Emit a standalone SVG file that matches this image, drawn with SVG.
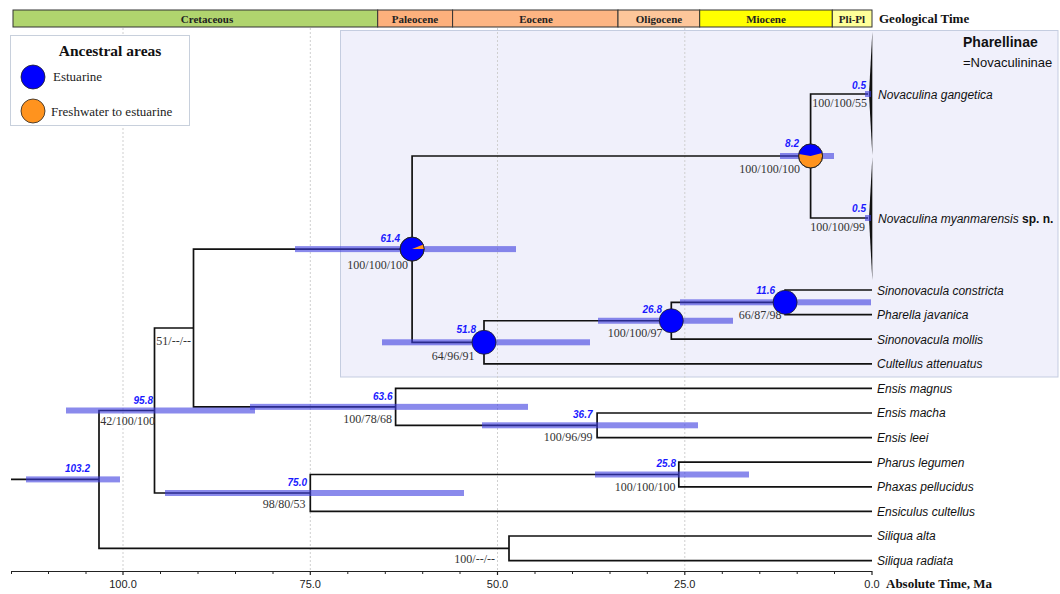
<svg xmlns="http://www.w3.org/2000/svg" width="1060" height="594" viewBox="0 0 1060 594">
<style>
.br{fill:none;stroke:#111;stroke-width:1.7}
.hpd{fill:#3c3cdf;fill-opacity:0.6}
.age{font-family:"Liberation Sans",Arial,sans-serif;font-style:italic;font-weight:bold;font-size:10px;fill:#1a1aff;text-anchor:end}
.sup{font-family:"Liberation Serif","Times New Roman",serif;font-size:12px;fill:#333;text-anchor:end}
.tip{font-family:"Liberation Sans",Arial,sans-serif;font-style:italic;font-size:12px;fill:#111}
.grid{stroke:#cfcfcf;stroke-dasharray:2 2;stroke-width:1}
.per{stroke:#333;stroke-width:1}
.pl{font-family:"Liberation Serif","Times New Roman",serif;font-weight:bold;font-size:11px;fill:#222;text-anchor:middle}
.ttl{font-family:"Liberation Serif","Times New Roman",serif;font-weight:bold;font-size:13px;fill:#111}
.ax{font-family:"Liberation Sans",Arial,sans-serif;font-size:11px;fill:#222;text-anchor:middle}
.pie{stroke:#222;stroke-width:0.8}
.blue{fill:#0000ff}
.orange{fill:#ff931e}
.wedge{fill:#111}
</style>
<rect x="0" y="0" width="1060" height="594" fill="#ffffff"/>

<!-- Shaded clade panel -->
<rect x="340.5" y="30.5" width="717.5" height="346.5" fill="#f0f0fb" stroke="#c5cde0" stroke-width="1"/>

<!-- Grid lines -->
<g id="grid">
<line class="grid" x1="123" y1="28" x2="123" y2="571"/>
<line class="grid" x1="310.3" y1="28" x2="310.3" y2="571"/>
<line class="grid" x1="497.5" y1="28" x2="497.5" y2="571"/>
<line class="grid" x1="684.8" y1="28" x2="684.8" y2="571"/>
</g>

<!-- Geological time bar -->
<g id="geotime">
<rect class="per" x="13" y="10" width="364.7" height="17" fill="#b0d46e"/>
<rect class="per" x="377.7" y="10" width="74.9" height="17" fill="#fdb07c"/>
<rect class="per" x="452.6" y="10" width="165.4" height="17" fill="#fdb583"/>
<rect class="per" x="618" y="10" width="81.7" height="17" fill="#fdc69a"/>
<rect class="per" x="699.7" y="10" width="132.6" height="17" fill="#ffff00"/>
<rect class="per" x="832.3" y="10" width="39.7" height="17" fill="#ffff99"/>
<text class="pl" x="207" y="22.5">Cretaceous</text>
<text class="pl" x="415" y="22.5">Paleocene</text>
<text class="pl" x="536" y="22.5">Eocene</text>
<text class="pl" x="659" y="22.5">Oligocene</text>
<text class="pl" x="766" y="22.5">Miocene</text>
<text class="pl" x="852" y="22.5">Pli-Pl</text>
<text class="ttl" x="879" y="23">Geological Time</text>
</g>

<!-- Legend -->
<g id="legend">
<rect x="10.5" y="35.5" width="179" height="90" fill="#ffffff" stroke="#c8d0dc" stroke-width="1"/>
<text x="110" y="56" font-family="Liberation Serif, Times New Roman, serif" font-weight="bold" font-size="15.5" fill="#111" text-anchor="middle">Ancestral areas</text>
<circle class="pie blue" cx="33" cy="77" r="12"/>
<text x="53" y="81" font-family="Liberation Serif, Times New Roman, serif" font-size="13" fill="#222">Estuarine</text>
<circle class="pie orange" cx="33" cy="111" r="12"/>
<text x="51" y="115.5" font-family="Liberation Serif, Times New Roman, serif" font-size="13" fill="#222">Freshwater to estuarine</text>
</g>

<g id="clade-label">
<text x="963" y="47" font-family="Liberation Sans, Arial, sans-serif" font-weight="bold" font-size="14" fill="#111">Pharellinae</text>
<text x="963" y="66.5" font-family="Liberation Sans, Arial, sans-serif" font-size="13" fill="#111">=Novaculininae</text>
</g>

<!-- Connectors -->
<g id="connectors">
<path class="br" d="M11,479.4 H99"/>
<path class="br" d="M154.5,410.5 H99 V548.3 H509"/>
<path class="br" d="M193.5,328 H154.5 V493 H310.3"/>
<path class="br" d="M412.1,249.1 H193.5 V406.85 H395.6"/>
<path class="br" d="M810.6,156 H412.1 V342.3 H484"/>
<path class="br" d="M868,94 H810.6 V218 H868"/>
<path class="br" d="M671.3,320.75 H484 V363.8 H872"/>
<path class="br" d="M785.1,302.3 H671.3 V339.2 H872"/>
<path class="br" d="M872,290 H785.1 V314.6 H872"/>
<path class="br" d="M872,388.4 H395.6 V425.3 H597.1"/>
<path class="br" d="M872,413 H597.1 V437.6 H872"/>
<path class="br" d="M678.8,474.5 H310.3 V511.4 H872"/>
<path class="br" d="M872,462.2 H678.8 V486.8 H872"/>
<path class="br" d="M872,536 H509 V560.6 H872"/>
</g>

<!-- Internal nodes -->
<g id="node-103-2">
<rect class="hpd" x="26" y="476.4" width="94" height="6"/>
<text class="age" x="90" y="472">103.2</text>
</g>
<g id="node-95-8">
<rect class="hpd" x="66" y="407.5" width="189" height="6"/>
<text class="age" x="153" y="404">95.8</text>
<text class="sup" x="155" y="425">42/100/100</text>
</g>
<g id="node-90-5">
<text class="sup" x="191" y="345">51/--/--</text>
</g>
<g id="node-63-6">
<rect class="hpd" x="250" y="403.85" width="278" height="6"/>
<text class="age" x="392.5" y="399.5">63.6</text>
<text class="sup" x="392" y="423">100/78/68</text>
</g>
<g id="node-36-7">
<rect class="hpd" x="482" y="422.3" width="216" height="6"/>
<text class="age" x="592.5" y="418">36.7</text>
<text class="sup" x="592.5" y="440.5">100/96/99</text>
</g>
<g id="node-75-0">
<rect class="hpd" x="165" y="490" width="299" height="6"/>
<text class="age" x="307" y="485.5">75.0</text>
<text class="sup" x="305.5" y="508">98/80/53</text>
</g>
<g id="node-25-8">
<rect class="hpd" x="595" y="471.5" width="154" height="6"/>
<text class="age" x="676" y="466.5">25.8</text>
<text class="sup" x="675.5" y="490.5">100/100/100</text>
</g>
<g id="node-siliqua">
<text class="sup" x="495" y="562.5">100/--/--</text>
</g>
<g id="node-61-4">
<rect class="hpd" x="295" y="246.1" width="221" height="6"/>
<circle class="pie blue" cx="412.1" cy="249.1" r="12"/>
<path class="orange" d="M412.1,249.1 L423.23,244.6 A12,12 0 0,1 424.1,249.1 Z"/>
<circle cx="412.1" cy="249.1" r="12" fill="none" stroke="#222" stroke-width="0.8"/>
<text class="age" x="400" y="241.5">61.4</text>
<text class="sup" x="408" y="268.5">100/100/100</text>
</g>
<g id="node-51-8">
<rect class="hpd" x="382" y="339.3" width="208" height="6"/>
<circle class="pie blue" cx="484" cy="342.3" r="12"/>
<text class="age" x="476" y="333">51.8</text>
<text class="sup" x="474.5" y="359.5">64/96/91</text>
</g>
<g id="node-26-8">
<rect class="hpd" x="598" y="317.75" width="135" height="6"/>
<circle class="pie blue" cx="671.3" cy="320.75" r="12"/>
<text class="age" x="662" y="313">26.8</text>
<text class="sup" x="662.5" y="336.5">100/100/97</text>
</g>
<g id="node-11-6">
<rect class="hpd" x="680" y="299.3" width="191" height="6"/>
<circle class="pie blue" cx="785.1" cy="302.3" r="12"/>
<text class="age" x="775" y="294">11.6</text>
<text class="sup" x="781.5" y="318.5">66/87/98</text>
</g>
<g id="node-8-2">
<rect class="hpd" x="780" y="153" width="54" height="6"/>
<circle class="pie orange" cx="810.6" cy="156" r="12"/>
<path class="blue" d="M810.6,156 L798.78,153.92 A12,12 0 0,1 822.19,152.89 Z"/>
<circle cx="810.6" cy="156" r="12" fill="none" stroke="#222" stroke-width="0.8"/>
<text class="age" x="799" y="147">8.2</text>
<text class="sup" x="800" y="172.5">100/100/100</text>
</g>

<!-- Tips -->
<g id="tip-novaculina-gangetica">
<polygon class="wedge" points="869,94 872.3,32 872.3,155"/>
<rect class="hpd" x="865" y="91" width="6" height="6"/>
<text class="age" x="866" y="88.5">0.5</text>
<text class="sup" x="867" y="107">100/100/55</text>
<text class="tip" x="878" y="98.5">Novaculina gangetica</text>
</g>
<g id="tip-novaculina-myanmarensis">
<polygon class="wedge" points="869,218 872.3,157.5 872.3,280"/>
<rect class="hpd" x="865" y="215" width="6" height="6"/>
<text class="age" x="866" y="211.5">0.5</text>
<text class="sup" x="865" y="231">100/100/99</text>
<text class="tip" x="878" y="222.5">Novaculina myanmarensis <tspan font-style="normal" font-weight="bold">sp. n.</tspan></text>
</g>
<g id="tip-sinonovacula-constricta"><text class="tip" x="877" y="294.5">Sinonovacula constricta</text></g>
<g id="tip-pharella-javanica"><text class="tip" x="877" y="319">Pharella javanica</text></g>
<g id="tip-sinonovacula-mollis"><text class="tip" x="877" y="343.5">Sinonovacula mollis</text></g>
<g id="tip-cultellus-attenuatus"><text class="tip" x="877" y="368">Cultellus attenuatus</text></g>
<g id="tip-ensis-magnus"><text class="tip" x="877" y="392.5">Ensis magnus</text></g>
<g id="tip-ensis-macha"><text class="tip" x="877" y="417">Ensis macha</text></g>
<g id="tip-ensis-leei"><text class="tip" x="877" y="442">Ensis leei</text></g>
<g id="tip-pharus-legumen"><text class="tip" x="877" y="466.5">Pharus legumen</text></g>
<g id="tip-phaxas-pellucidus"><text class="tip" x="877" y="491">Phaxas pellucidus</text></g>
<g id="tip-ensiculus-cultellus"><text class="tip" x="877" y="515.5">Ensiculus cultellus</text></g>
<g id="tip-siliqua-alta"><text class="tip" x="877" y="540">Siliqua alta</text></g>
<g id="tip-siliqua-radiata"><text class="tip" x="877" y="565">Siliqua radiata</text></g>

<!-- Axis -->
<g id="axis">
<line x1="11" y1="571.5" x2="872" y2="571.5" stroke="#222" stroke-width="1.2"/>
<path d="M123,571 v4 M310.3,571 v4 M497.5,571 v4 M684.8,571 v4 M872,571 v4" stroke="#222" stroke-width="1.2" fill="none"/>
<path d="M11.5,571 v3 M48.5,571 v3 M86,571 v3 M160.5,571 v3 M198,571 v3 M235.5,571 v3 M273,571 v3 M347.8,571 v3 M385.3,571 v3 M422.7,571 v3 M460,571 v3 M535,571 v3 M572.5,571 v3 M610,571 v3 M647.3,571 v3 M722.3,571 v3 M759.8,571 v3 M797.2,571 v3 M834.5,571 v3" stroke="#222" stroke-width="1" fill="none"/>
<text class="ax" x="123" y="588">100.0</text>
<text class="ax" x="310.3" y="588">75.0</text>
<text class="ax" x="497.5" y="588">50.0</text>
<text class="ax" x="684.8" y="588">25.0</text>
<text class="ax" x="872" y="588">0.0</text>
<text class="ttl" x="886" y="588">Absolute Time, Ma</text>
</g>
</svg>
